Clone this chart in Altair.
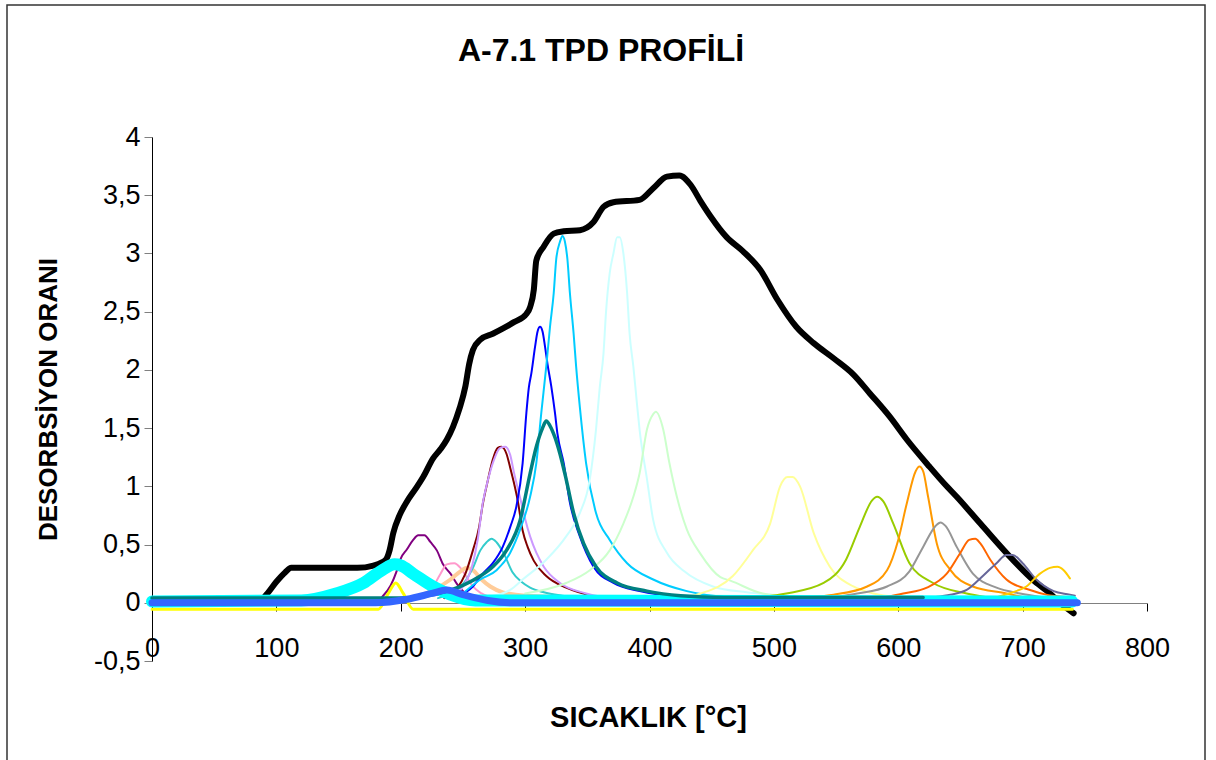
import altair as alt
import pandas as pd

TITLE = "A-7.1 TPD PROFİLİ"
X_TITLE = "SICAKLIK [°C]"
Y_TITLE = "DESORBSİYON ORANI"
X_TICKS = [0, 100, 200, 300, 400, 500, 600, 700, 800]
Y_TICKS = [-0.5, 0, 0.5, 1, 1.5, 2, 2.5, 3, 3.5, 4]

# black envelope (measured total desorption)
black_x = [0, 85, 92, 100, 107, 112, 120, 165, 178, 188, 191, 194, 199, 205, 212, 218, 226, 232, 237,
           242, 247, 252, 255, 258, 264, 274, 283, 291, 301, 304, 307, 309, 315, 323, 331, 344, 355,
           363, 371, 392, 403, 414, 424, 433, 441, 449, 462, 475, 489, 503, 518, 532, 548, 564, 577,
           593, 607, 625, 639, 647, 666, 692, 708, 722, 730, 741]
black_y = [0, 0, 0.07, 0.18, 0.26, 0.30, 0.30, 0.30, 0.32, 0.37, 0.45, 0.60, 0.75, 0.87, 0.98, 1.08, 1.24,
           1.32, 1.40, 1.51, 1.66, 1.86, 2.05, 2.17, 2.26, 2.31, 2.36, 2.41, 2.48, 2.54, 2.69, 2.94, 3.06,
           3.17, 3.19, 3.20, 3.27, 3.40, 3.44, 3.46, 3.56, 3.66, 3.67, 3.59, 3.45, 3.32, 3.14, 3.02, 2.86,
           2.60, 2.37, 2.23, 2.10, 1.96, 1.80, 1.60, 1.40, 1.17, 1.00, 0.91, 0.68, 0.37, 0.20, 0.08, 0.0,
           -0.09]

purple_x = [185, 192, 197, 200, 205, 210, 214, 219, 224, 229, 234, 240, 246, 252, 260]
purple_y = [0.05, 0.15, 0.28, 0.38, 0.46, 0.54, 0.58, 0.58, 0.52, 0.45, 0.33, 0.25, 0.15, 0.08, 0.04]

pink_x = [215, 225, 232, 237, 243, 248, 253, 258, 265, 275]
pink_y = [0.05, 0.12, 0.25, 0.33, 0.34, 0.30, 0.22, 0.14, 0.08, 0.04]

peach_x = [200, 215, 228, 240, 248, 253, 258, 265, 272, 282, 300, 330, 380, 385]
peach_y = [0.03, 0.06, 0.12, 0.20, 0.27, 0.30, 0.28, 0.20, 0.14, 0.09, 0.06, 0.05, 0.05, 0.03]

turq_x = [230, 240, 250, 258, 264, 269, 273, 277, 283, 290, 297, 304, 315, 330, 345]
turq_y = [0.04, 0.08, 0.16, 0.30, 0.45, 0.52, 0.55, 0.52, 0.42, 0.26, 0.18, 0.13, 0.09, 0.06, 0.04]

darkred_x = [235, 245, 252, 258, 263, 266, 270, 274, 278, 281, 285, 288, 291, 294, 298, 302, 307, 317,
             333, 350, 360]
darkred_y = [0.04, 0.12, 0.25, 0.45, 0.65, 0.85, 1.05, 1.23, 1.33, 1.34, 1.28, 1.16, 1.03, 0.88, 0.62,
             0.48, 0.36, 0.23, 0.13, 0.07, 0.04]

lavender_x = [240, 250, 257, 262, 266, 270, 275, 280, 284, 288, 291, 296, 300, 304, 309, 315, 328, 349, 362]
lavender_y = [0.04, 0.14, 0.30, 0.55, 0.86, 1.05, 1.23, 1.33, 1.34, 1.27, 1.12, 0.90, 0.72, 0.57, 0.43,
              0.31, 0.17, 0.08, 0.05]

blue_x = [245, 258, 266, 274, 282, 288, 293, 298, 301, 303, 305, 308, 310, 312, 314, 316, 318, 321, 324,
          326, 331, 336, 344, 355, 371, 392, 424, 445]
blue_y = [0.05, 0.14, 0.25, 0.34, 0.48, 0.65, 0.83, 1.20, 1.63, 1.85, 1.97, 2.20, 2.33, 2.37, 2.33, 2.20,
          2.05, 1.86, 1.63, 1.45, 1.20, 0.86, 0.57, 0.31, 0.17, 0.10, 0.05, 0.04]

teal_x = [0, 200, 230, 250, 264, 274, 285, 296, 304, 309, 314, 317, 320, 324, 328, 333, 339, 347, 357,
          374, 398, 425, 460, 620]
teal_y = [0.04, 0.04, 0.08, 0.15, 0.23, 0.31, 0.45, 0.71, 1.11, 1.34, 1.50, 1.56, 1.52, 1.42, 1.28, 1.06,
          0.77, 0.51, 0.31, 0.17, 0.10, 0.06, 0.045, 0.045]

sky_x = [250, 264, 277, 288, 296, 304, 309, 313, 317, 320, 323, 325, 328, 330, 332, 334, 336, 339, 341,
         344, 349, 357, 368, 382, 403, 430, 465, 500]
sky_y = [0.08, 0.20, 0.28, 0.43, 0.63, 0.91, 1.20, 1.63, 2.03, 2.37, 2.66, 2.95, 3.10, 3.15, 3.10, 2.95,
         2.66, 2.31, 2.03, 1.68, 1.20, 0.77, 0.54, 0.34, 0.20, 0.10, 0.05, 0.04]

lcyan_x = [270, 288, 298, 317, 333, 344, 352, 357, 360, 363, 365, 368, 371, 374, 376, 379, 382, 384, 387,
           390, 392, 398, 403, 414, 428, 451, 478, 510, 530]
lcyan_y = [0.05, 0.11, 0.20, 0.37, 0.57, 0.77, 1.06, 1.49, 1.85, 2.14, 2.49, 2.83, 3.00, 3.14, 3.14, 3.00,
           2.66, 2.31, 2.03, 1.70, 1.49, 1.06, 0.71, 0.43, 0.27, 0.14, 0.09, 0.06, 0.04]

lgreen_x = [300, 333, 352, 368, 379, 387, 392, 398, 403, 405, 411, 416, 422, 430, 441, 457, 465, 491, 520, 540]
lgreen_y = [0.08, 0.17, 0.28, 0.45, 0.68, 0.91, 1.11, 1.49, 1.62, 1.64, 1.49, 1.20, 0.91, 0.63, 0.42,
            0.22, 0.19, 0.08, 0.05, 0.04]

lyellow_x = [420, 441, 467, 483, 497, 505, 511, 515, 521, 532, 545, 564, 580, 600]
lyellow_y = [0.04, 0.08, 0.23, 0.45, 0.68, 1.00, 1.08, 1.08, 1.00, 0.60, 0.31, 0.14, 0.08, 0.05]

ygreen_x = [490, 510, 540, 558, 569, 579, 583, 588, 596, 609, 628, 655, 670]
ygreen_y = [0.05, 0.08, 0.17, 0.37, 0.65, 0.88, 0.91, 0.87, 0.68, 0.34, 0.17, 0.08, 0.05]

orange_x = [530, 548, 575, 591, 600, 607, 614, 617, 620, 624, 631, 642, 660, 687, 700]
orange_y = [0.05, 0.07, 0.14, 0.28, 0.54, 0.86, 1.13, 1.17, 1.13, 0.91, 0.51, 0.28, 0.14, 0.08, 0.05]

grey_x = [550, 567, 591, 609, 620, 630, 634, 638, 647, 660, 679, 698, 715]
grey_y = [0.05, 0.08, 0.14, 0.27, 0.48, 0.66, 0.69, 0.66, 0.48, 0.25, 0.13, 0.08, 0.05]

ored_x = [590, 604, 623, 639, 650, 657, 662, 666, 674, 687, 706, 719, 735]
ored_y = [0.05, 0.08, 0.13, 0.25, 0.43, 0.54, 0.55, 0.51, 0.37, 0.20, 0.11, 0.07, 0.05]

slate_x = [630, 642, 655, 668, 679, 687, 692, 700, 711, 725, 738, 742]
slate_y = [0.05, 0.07, 0.11, 0.23, 0.34, 0.41, 0.41, 0.34, 0.20, 0.10, 0.07, 0.06]

gold_x = [680, 692, 703, 714, 722, 728, 733, 738]
gold_y = [0.05, 0.09, 0.14, 0.25, 0.30, 0.31, 0.28, 0.21]

yellow_x = [0, 182, 190, 196, 202, 210, 740]
yellow_y = [-0.055, -0.055, 0.08, 0.17, 0.08, -0.055, -0.055]

cyan_x = [0, 120, 148, 170, 185, 195, 200, 210, 226, 240, 260, 740]
cyan_y = [0.01, 0.02, 0.08, 0.17, 0.28, 0.33, 0.32, 0.25, 0.14, 0.07, 0.02, 0.01]

bandblue_x = [0, 180, 205, 225, 237, 250, 270, 290, 744]
bandblue_y = [0.0, 0.0, 0.03, 0.08, 0.11, 0.07, 0.02, 0.0, 0.0]

# drawing order, colour, stroke width
SERIES = [
    (black_x, black_y, "#000000", 6),
    (purple_x, purple_y, "#800080", 2),
    (pink_x, pink_y, "#FF99CC", 2),
    (peach_x, peach_y, "#FFCC99", 4),
    (turq_x, turq_y, "#33CCCC", 2),
    (darkred_x, darkred_y, "#800000", 2),
    (lavender_x, lavender_y, "#CC99FF", 2),
    (blue_x, blue_y, "#0000FF", 2),
    (sky_x, sky_y, "#00CCFF", 2),
    (lcyan_x, lcyan_y, "#CCFFFF", 2),
    (lgreen_x, lgreen_y, "#CCFFCC", 2),
    (lyellow_x, lyellow_y, "#FFFF99", 2),
    (ygreen_x, ygreen_y, "#99CC00", 2),
    (orange_x, orange_y, "#FF9900", 2),
    (grey_x, grey_y, "#969696", 2),
    (ored_x, ored_y, "#FF6600", 2),
    (slate_x, slate_y, "#666699", 2),
    (gold_x, gold_y, "#FFCC00", 2),
    (yellow_x, yellow_y, "#FFFF00", 3),
    (cyan_x, cyan_y, "#00FFFF", 12),
    (teal_x, teal_y, "#008080", 3.5),
    (bandblue_x, bandblue_y, "#3366FF", 7),
]

FONT = "Liberation Sans"
xscale = alt.Scale(domain=[0, 800], nice=False, zero=False)
yscale = alt.Scale(domain=[-0.5, 4], nice=False, zero=False)

x_axis = alt.Axis(
    values=X_TICKS, format="d", grid=False, offset=-58,
    domainColor="#808080", domainWidth=1, tickColor="#000000", tickSize=8, tickWidth=1,
    labelFont=FONT, labelFontSize=27, labelColor="#000000", labelPadding=37,
    labelBaseline="middle", labelFlush=False, labelOverlap=False,
    title=X_TITLE, titleFont=FONT, titleFontSize=29, titleFontWeight="bold", titleColor="#000000",
    titleX=496, titleY=114, titleBaseline="middle", titleAlign="center",
)
y_axis = alt.Axis(
    values=Y_TICKS, grid=False,
    labelExpr="datum.value < 0 ? '-' + replace(toString(-datum.value), '.', ',') : replace(toString(datum.value), '.', ',')",
    domainColor="#000000", domainWidth=1, tickColor="#808080", tickSize=8, tickWidth=1,
    labelFont=FONT, labelFontSize=27, labelColor="#000000", labelPadding=4,
    labelFlush=False, labelOverlap=False,
    title=Y_TITLE, titleFont=FONT, titleFontSize=26, titleFontWeight="bold", titleColor="#000000",
    titleAngle=270, titleX=-104, titleY=262, titleBaseline="middle", titleAlign="center",
)

layers = []
for xs, ys, color, width in SERIES:
    df = pd.DataFrame({"x": xs, "y": ys})
    layers.append(
        alt.Chart(df).mark_line(color=color, strokeWidth=width, interpolate="monotone",
                                strokeJoin="round", strokeCap="round")
        .encode(x=alt.X("x:Q", scale=xscale, axis=x_axis),
                y=alt.Y("y:Q", scale=yscale, axis=y_axis))
    )

title_layer = alt.Chart(pd.DataFrame({"t": [TITLE]})).mark_text(
    font=FONT, fontSize=32, fontWeight="bold", align="center", baseline="middle", color="#000000"
).encode(x=alt.value(449), y=alt.value(-86), text="t:N")

frame_layer = alt.Chart(pd.DataFrame({"a": [0]})).mark_rect(
    fill="transparent", stroke="#333333", strokeWidth=1.5
).encode(x=alt.value(-145), x2=alt.value(1053), y=alt.value(-132), y2=alt.value(640))

chart = alt.layer(*layers, frame_layer, title_layer).properties(
    width=995, height=524,
    padding={"left": 152, "top": 137, "right": 69, "bottom": 99},
    autosize=alt.AutoSizeParams(type="none"),
    background="#FFFFFF",
).configure_view(strokeWidth=0)

chart.save("out.html", embed_options={"renderer": "svg", "actions": False})
